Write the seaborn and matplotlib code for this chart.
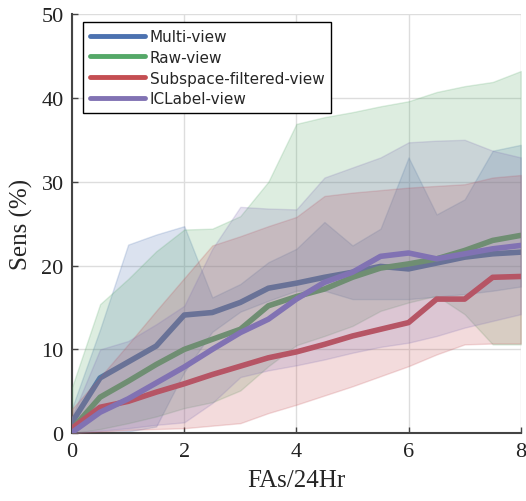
import numpy as np
import pandas as pd
import matplotlib
matplotlib.use('Agg')
import matplotlib.pyplot as plt
import seaborn as sns

# false alarms per 24h
fas = [0, 0.5, 1, 1.5, 2, 2.5, 3, 3.5, 4, 4.5, 5, 5.5, 6, 6.5, 7, 7.5, 8]

multi_mean = [1.3, 6.6, 8.5, 10.4, 14.1, 14.4, 15.6, 17.3, 17.9, 18.6, 19.2, 19.9, 19.6, 20.3, 21.0, 21.4, 21.6]
multi_hi = [3.0, 12.4, 22.5, 23.7, 24.7, 16.2, 17.8, 20.4, 22.0, 25.2, 22.4, 24.4, 32.9, 26.1, 27.9, 33.7, 34.4]
multi_lo = [0, 0, 0.2, 0.8, 7.3, 12.1, 14.5, 15.8, 17.0, 17.0, 16.0, 16.0, 16.0, 16.3, 16.6, 17.0, 17.5]

raw_mean = [0.5, 4.3, 6.2, 8.2, 10.0, 11.2, 12.4, 15.2, 16.3, 17.2, 18.6, 19.7, 20.2, 20.8, 21.8, 23.0, 23.6]
raw_hi = [5.5, 15.4, 18.4, 21.7, 24.3, 24.4, 25.9, 30.0, 36.9, 37.7, 38.3, 39.0, 39.6, 40.7, 41.4, 41.9, 43.2]
raw_lo = [0, 0.5, 1.2, 2.0, 3.0, 3.7, 5.1, 8.0, 10.5, 11.6, 12.8, 14.6, 15.6, 16.4, 14.2, 10.6, 10.6]

sub_mean = [0.6, 3.1, 3.8, 4.9, 5.9, 7.0, 8.0, 9.0, 9.7, 10.6, 11.6, 12.4, 13.2, 16.0, 16.0, 18.6, 18.7]
sub_hi = [2.9, 6.7, 10.6, 14.6, 18.5, 22.4, 23.5, 24.7, 25.8, 28.3, 28.7, 29.0, 29.3, 29.5, 29.7, 30.5, 30.8]
sub_lo = [0, 0.2, 0.4, 0.5, 0.6, 0.9, 1.2, 2.4, 3.4, 4.5, 5.6, 6.8, 8.0, 9.4, 10.6, 10.7, 10.7]

ic_mean = [0.1, 2.5, 4.1, 6.0, 7.9, 10.0, 12.0, 13.6, 16.0, 18.0, 19.2, 21.1, 21.5, 20.8, 21.4, 22.0, 22.4]
ic_hi = [2.0, 10.0, 11.0, 13.0, 15.2, 22.0, 27.0, 26.8, 26.7, 30.5, 31.7, 32.9, 34.7, 34.9, 35.0, 33.7, 32.9]
ic_lo = [0, 0.3, 0.6, 1.0, 1.3, 3.6, 6.7, 7.5, 8.1, 8.8, 9.6, 10.3, 10.8, 11.6, 12.6, 13.4, 14.2]

names = ['Multi-view', 'Raw-view', 'Subspace-filtered-view', 'ICLabel-view']
means = [multi_mean, raw_mean, sub_mean, ic_mean]
lows = [multi_lo, raw_lo, sub_lo, ic_lo]
highs = [multi_hi, raw_hi, sub_hi, ic_hi]

sns.set_theme(style='whitegrid')
colors = sns.color_palette('deep')
colors = [colors[0], colors[2], colors[3], colors[4]]
plt.rcParams['font.family'] = ['Liberation Serif', 'DejaVu Serif']

fig, ax = plt.subplots(figsize=(5.26, 5.02), dpi=100)
fig.subplots_adjust(left=0.137, right=0.990, top=0.970, bottom=0.135)

for i, (name, m, lo, hi, c) in enumerate(zip(names, means, lows, highs, colors)):
    ax.fill_between(fas, lo, hi, color=c, alpha=0.2, linewidth=1, zorder=2 + 2 * i)
    df = pd.DataFrame({'FAs': fas, 'Sens': m})
    sns.lineplot(data=df, x='FAs', y='Sens', color=c, linewidth=4, label=name,
                 ax=ax, zorder=3 + 2 * i)

ax.set_xlim(0, 8)
ax.set_ylim(0, 50)
ax.set_xticks([0, 2, 4, 6, 8])
ax.set_yticks([0, 10, 20, 30, 40, 50])
ax.set_xlabel('FAs/24Hr', fontsize=18, labelpad=6)
ax.set_ylabel('Sens (%)', fontsize=18, labelpad=6)
ax.tick_params(axis='both', labelsize=16, direction='in', length=4, width=1,
               color='#444444', labelcolor='#222222', left=True, bottom=True, pad=6)
ax.grid(True, color='#dddddd', linewidth=1)
for s in ['top', 'right']:
    ax.spines[s].set_visible(False)
for s in ['left', 'bottom']:
    ax.spines[s].set_color('#444444')
    ax.spines[s].set_linewidth(1.5)

leg = ax.legend(loc='upper left', bbox_to_anchor=(0.0245, 0.981), borderaxespad=0,
                fancybox=False, framealpha=1, edgecolor='black', handlelength=3.6,
                prop={'family': 'DejaVu Sans', 'size': 11}, borderpad=0.45,
                labelspacing=0.38, handletextpad=0.3)
leg.get_frame().set_linewidth(1)
for h in leg.get_lines():
    h.set_linewidth(3.5)

fig.savefig('out.png', dpi=100)
